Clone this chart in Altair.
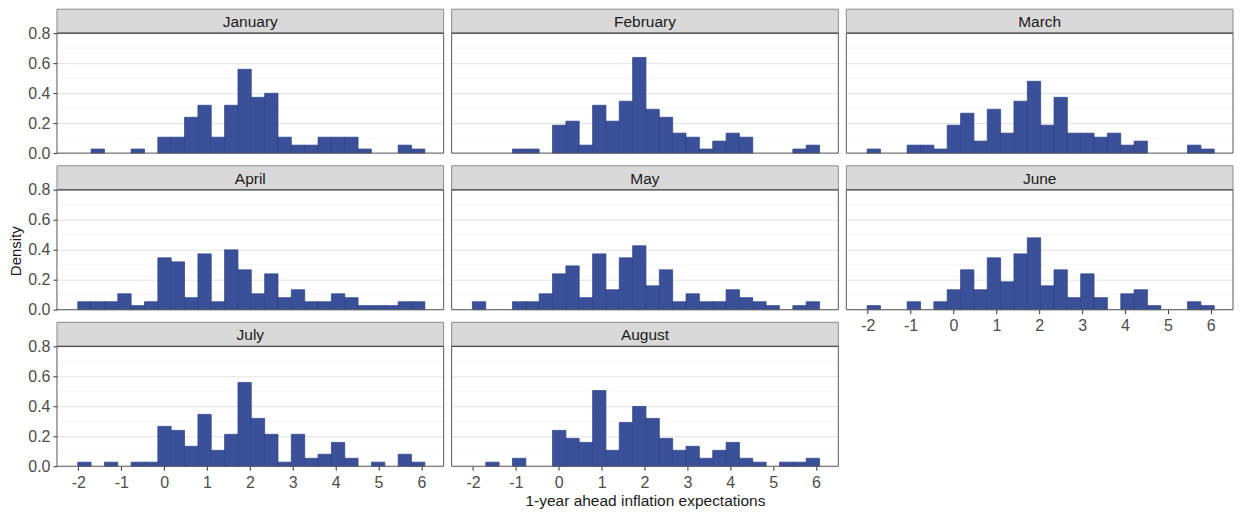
import altair as alt
import pandas as pd

FONT = "Liberation Sans"

months = ["January", "February", "March", "April", "May", "June", "July", "August"]

# left edges of the 26 histogram bins, last right edge
bin_left = [-2.015, -1.704, -1.392, -1.081, -0.769, -0.458, -0.147, 0.165, 0.476,
            0.788, 1.099, 1.410, 1.722, 2.033, 2.345, 2.656, 2.967, 3.279, 3.590,
            3.902, 4.213, 4.524, 4.836, 5.147, 5.459, 5.770]
bin_last_right = 6.082

dens_jan = [0, .027, 0, 0, .027, 0, .106, .106, .239, .319, .106, .319, .559, .372, .399,
            .106, .053, .053, .106, .106, .106, .027, 0, 0, .053, .027]
dens_feb = [0, 0, 0, .027, .027, 0, .186, .213, .053, .319, .213, .346, .638, .292, .239,
            .133, .106, .027, .080, .133, .106, 0, 0, 0, .027, .053]
dens_mar = [.027, 0, 0, .053, .053, .027, .186, .266, .080, .292, .133, .346, .479, .186, .372,
            .133, .133, .106, .133, .053, .080, 0, 0, 0, .053, .027]
dens_apr = [.053, .053, .053, .106, .027, .053, .346, .319, .080, .372, .053, .399, .266, .106, .239,
            .080, .133, .053, .053, .106, .080, .027, .027, .027, .053, .053]
dens_may = [.053, 0, 0, .053, .053, .106, .239, .292, .080, .372, .133, .346, .426, .159, .266,
            .053, .106, .053, .053, .133, .080, .053, .027, 0, .027, .053]
dens_jun = [.027, 0, 0, .053, 0, .053, .133, .266, .133, .346, .186, .372, .479, .159, .266,
            .080, .239, .080, 0, .106, .133, .027, 0, 0, .053, .027]
dens_jul = [.027, 0, .027, 0, .027, .027, .266, .239, .133, .346, .106, .213, .559, .319, .213,
            .027, .213, .053, .080, .159, .053, 0, .027, 0, .080, .027]
dens_aug = [0, .027, 0, .053, 0, 0, .239, .186, .159, .505, .106, .292, .399, .319, .186,
            .106, .133, .053, .106, .159, .053, .027, 0, .027, .027, .053]

all_dens = [dens_jan, dens_feb, dens_mar, dens_apr, dens_may, dens_jun, dens_jul, dens_aug]

y_ticks = [0.0, 0.2, 0.4, 0.6, 0.8]
minor_grid = [0.1, 0.3, 0.5, 0.7]
x_ticks = [-2, -1, 0, 1, 2, 3, 4, 5, 6]
x_title = "1-year ahead inflation expectations"
y_title = "Density"

bin_right = bin_left[1:] + [bin_last_right]

rows = []
for m, dens in zip(months, all_dens):
    for l, r, d in zip(bin_left, bin_right, dens):
        if d > 0:
            rows.append(dict(month=m, kind="bar", x0=l, x1=r, density=d))
    rows.append(dict(month=m, kind="label"))
    for g in minor_grid:
        rows.append(dict(month=m, kind="minor", gy=g))
df = pd.DataFrame(rows)

# layout (pixels)
W = 387          # panel width
PH = 120         # plot area height
S = 24           # strip height
CH = PH + S      # cell height
YTOP = 0.8 * CH / PH
ROWSP = 12.7
COLSP = 8

xscale = alt.Scale(domain=[-2.5, 6.52], nice=False, zero=False)
yscale = alt.Scale(domain=[0, YTOP], nice=False, zero=True)

AXIS_TXT = dict(labelFontSize=16, labelColor="#4D4D4D", labelFont=FONT,
                titleFont=FONT, titleColor="#1A1A1A", titleFontWeight="normal")


def make_panel(idx):
    m = months[idx]
    col = idx % 3
    show_y = col == 0
    show_x = m in ("June", "July", "August")

    ykw = dict(values=y_ticks, format=".1f", grid=True, gridColor="#E3E3E3", gridWidth=1,
               domain=False, labels=show_y, ticks=show_y, tickColor="#333333", tickSize=4,
               labelPadding=3, title=None, **AXIS_TXT)
    if m == "April":
        ykw.update(title=y_title, titleFontSize=15, titlePadding=4, titleY=S + PH / 2 + 1)
    yaxis = alt.Axis(**ykw)

    if show_x:
        xkw = dict(values=x_ticks, labelExpr="'' + datum.value", grid=False, domain=False,
                   tickColor="#333333", tickSize=4, labelPadding=4, title=None, **AXIS_TXT)
        if m == "August":
            xkw.update(title=x_title, titleFontSize=15.5, titlePadding=3)
        xaxis = alt.Axis(**xkw)
    else:
        xaxis = None

    base = alt.Chart(df).transform_filter(alt.datum.month == m)

    minor = base.transform_filter(alt.datum.kind == "minor").mark_rule(
        color="#F2F2F2", strokeWidth=0.8
    ).encode(y=alt.Y("gy:Q", scale=yscale, axis=yaxis))

    bars = base.transform_filter(alt.datum.kind == "bar").mark_rect(
        fill="#3A5098", stroke="#2B3F8A", strokeWidth=0.7
    ).encode(
        x=alt.X("x0:Q", scale=xscale, axis=xaxis),
        x2="x1:Q",
        y=alt.Y("density:Q", scale=yscale, axis=yaxis),
        y2=alt.datum(0),
    )

    labels = base.transform_filter(alt.datum.kind == "label")

    border = labels.mark_rect(fillOpacity=0, stroke="#595959", strokeWidth=1).encode(
        x=alt.value(0), x2=alt.value(W), y=alt.value(S), y2=alt.value(CH)
    )
    strip = labels.mark_rect(fill="#D9D9D9", stroke="#8C8C8C", strokeWidth=1).encode(
        x=alt.value(0), x2=alt.value(W), y=alt.value(0), y2=alt.value(S)
    )
    strip_line = labels.mark_rule(color="#4D4D4D", strokeWidth=1.2).encode(
        x=alt.value(0), x2=alt.value(W), y=alt.value(S)
    )
    strip_text = labels.mark_text(font=FONT, fontSize=15.5, color="#1A1A1A").encode(
        x=alt.value(W / 2), y=alt.value(S / 2 + 1), text="month:N"
    )

    return alt.layer(minor, bars, border, strip, strip_line, strip_text).properties(
        width=W, height=CH
    )


panels = [make_panel(i) for i in range(len(months))]

chart = alt.concat(
    *panels, columns=3, spacing={"row": ROWSP, "column": COLSP}, bounds="flush"
).properties(padding=0).configure_view(stroke="transparent")

chart.save("out.html", embed_options={"renderer": "svg", "actions": False})
